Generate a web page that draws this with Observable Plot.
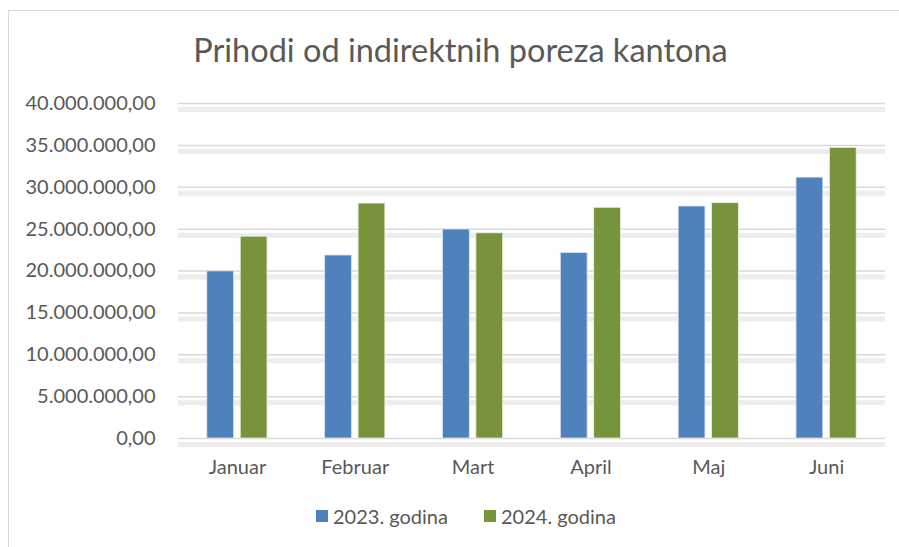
<!DOCTYPE html>
<html>
<head>
<meta charset="utf-8">
<script src="https://cdn.jsdelivr.net/npm/d3@7"></script>
<script src="https://cdn.jsdelivr.net/npm/@observablehq/plot@0.6"></script>
<style>
  html, body { margin: 0; padding: 0; background: #fff; }
  body { width: 899px; height: 547px; position: relative; overflow: hidden; font-family: Lato, "Open Sans", sans-serif; color: #595959; }
  #frame { position: absolute; left: 8px; top: 10px; width: 900px; height: 560px; border: 1px solid #d9d9d9; box-sizing: border-box; }
  #title { position: absolute; left: 11px; width: 899px; top: 30px; text-align: center; font-size: 32.5px; color: #595959; }
  #chart { position: absolute; left: 0; top: 90px; }
  #legend { position: absolute; top: 504px; left: 0; width: 899px; font-size: 20px; color: #595959; }
  .li { position: absolute; top: 0; display: flex; align-items: center; white-space: nowrap; }
  .sw { width: 12px; height: 12px; margin-right: 5px; display: inline-block; }
</style>
</head>
<body>
<div id="frame"></div>
<div id="title">Prihodi od indirektnih poreza kantona</div>
<div id="chart"></div>
<div id="legend"></div>
<script>
const months = ["Januar", "Februar", "Mart", "April", "Maj", "Juni"];
const series = ["2023. godina", "2024. godina"];
const values2023 = [19950000, 21850000, 24950000, 22150000, 27700000, 31150000];
const values2024 = [24100000, 28050000, 24500000, 27550000, 28100000, 34700000];
const yTicks = [0, 5000000, 10000000, 15000000, 20000000, 25000000, 30000000, 35000000, 40000000];
const colors = ["#4f81bd", "#77933c"];

const data = [];
months.forEach((m, i) => {
  data.push({month: m, series: series[0], value: values2023[i]});
  data.push({month: m, series: series[1], value: values2024[i]});
});

const locale = d3.formatLocale({decimal: ",", thousands: ".", grouping: [3], currency: ["", ""]});
const fmt = locale.format(",.2f");

const W = 899, H = 400;
const mL = 178, mR = 14;
const step = (W - mL - mR) / months.length;
const barW = 26.8, gap = 6.6;
const half = step / 2;

const chart = Plot.plot({
  width: W,
  height: H,
  marginLeft: mL,
  marginRight: mR,
  marginTop: 13,
  marginBottom: 52,
  style: {fontFamily: "Lato, 'Open Sans', sans-serif", fontSize: "20px", color: "#595959", background: "transparent"},
  x: {domain: months, padding: 0, round: false, label: null, tickSize: 0, tickPadding: 21},
  y: {domain: [0, 40000000], ticks: yTicks, tickFormat: fmt, label: null, tickSize: 0, tickPadding: 23},
  color: {domain: series, range: colors},
  marks: [
    Plot.ruleY(yTicks, {stroke: "#e9e9e9", strokeWidth: 5, dy: 6, strokeOpacity: 0.8}),
    Plot.ruleY(yTicks, {stroke: "#d9d9d9", strokeWidth: 1.5}),
    Plot.barY(data.filter(d => d.series === series[0]), {
      x: "month", y: "value", fill: "series",
      insetLeft: half - gap / 2 - barW, insetRight: half + gap / 2,
      stroke: "#dbe5f1", strokeWidth: 0.8
    }),
    Plot.barY(data.filter(d => d.series === series[1]), {
      x: "month", y: "value", fill: "series",
      insetLeft: half + gap / 2, insetRight: half - gap / 2 - barW,
      stroke: "#eaf1dd", strokeWidth: 0.8
    })
  ]
});
d3.select(chart).selectAll("text").attr("fill", "#595959");
document.getElementById("chart").appendChild(chart);

const legend = document.getElementById("legend");
const lx = [316, 484];
series.forEach((s, i) => {
  const it = document.createElement("div");
  it.className = "li";
  it.style.left = lx[i] + "px";
  it.innerHTML = `<span class="sw" style="background:${colors[i]}"></span><span>${s}</span>`;
  legend.appendChild(it);
});
</script>
</body>
</html>
